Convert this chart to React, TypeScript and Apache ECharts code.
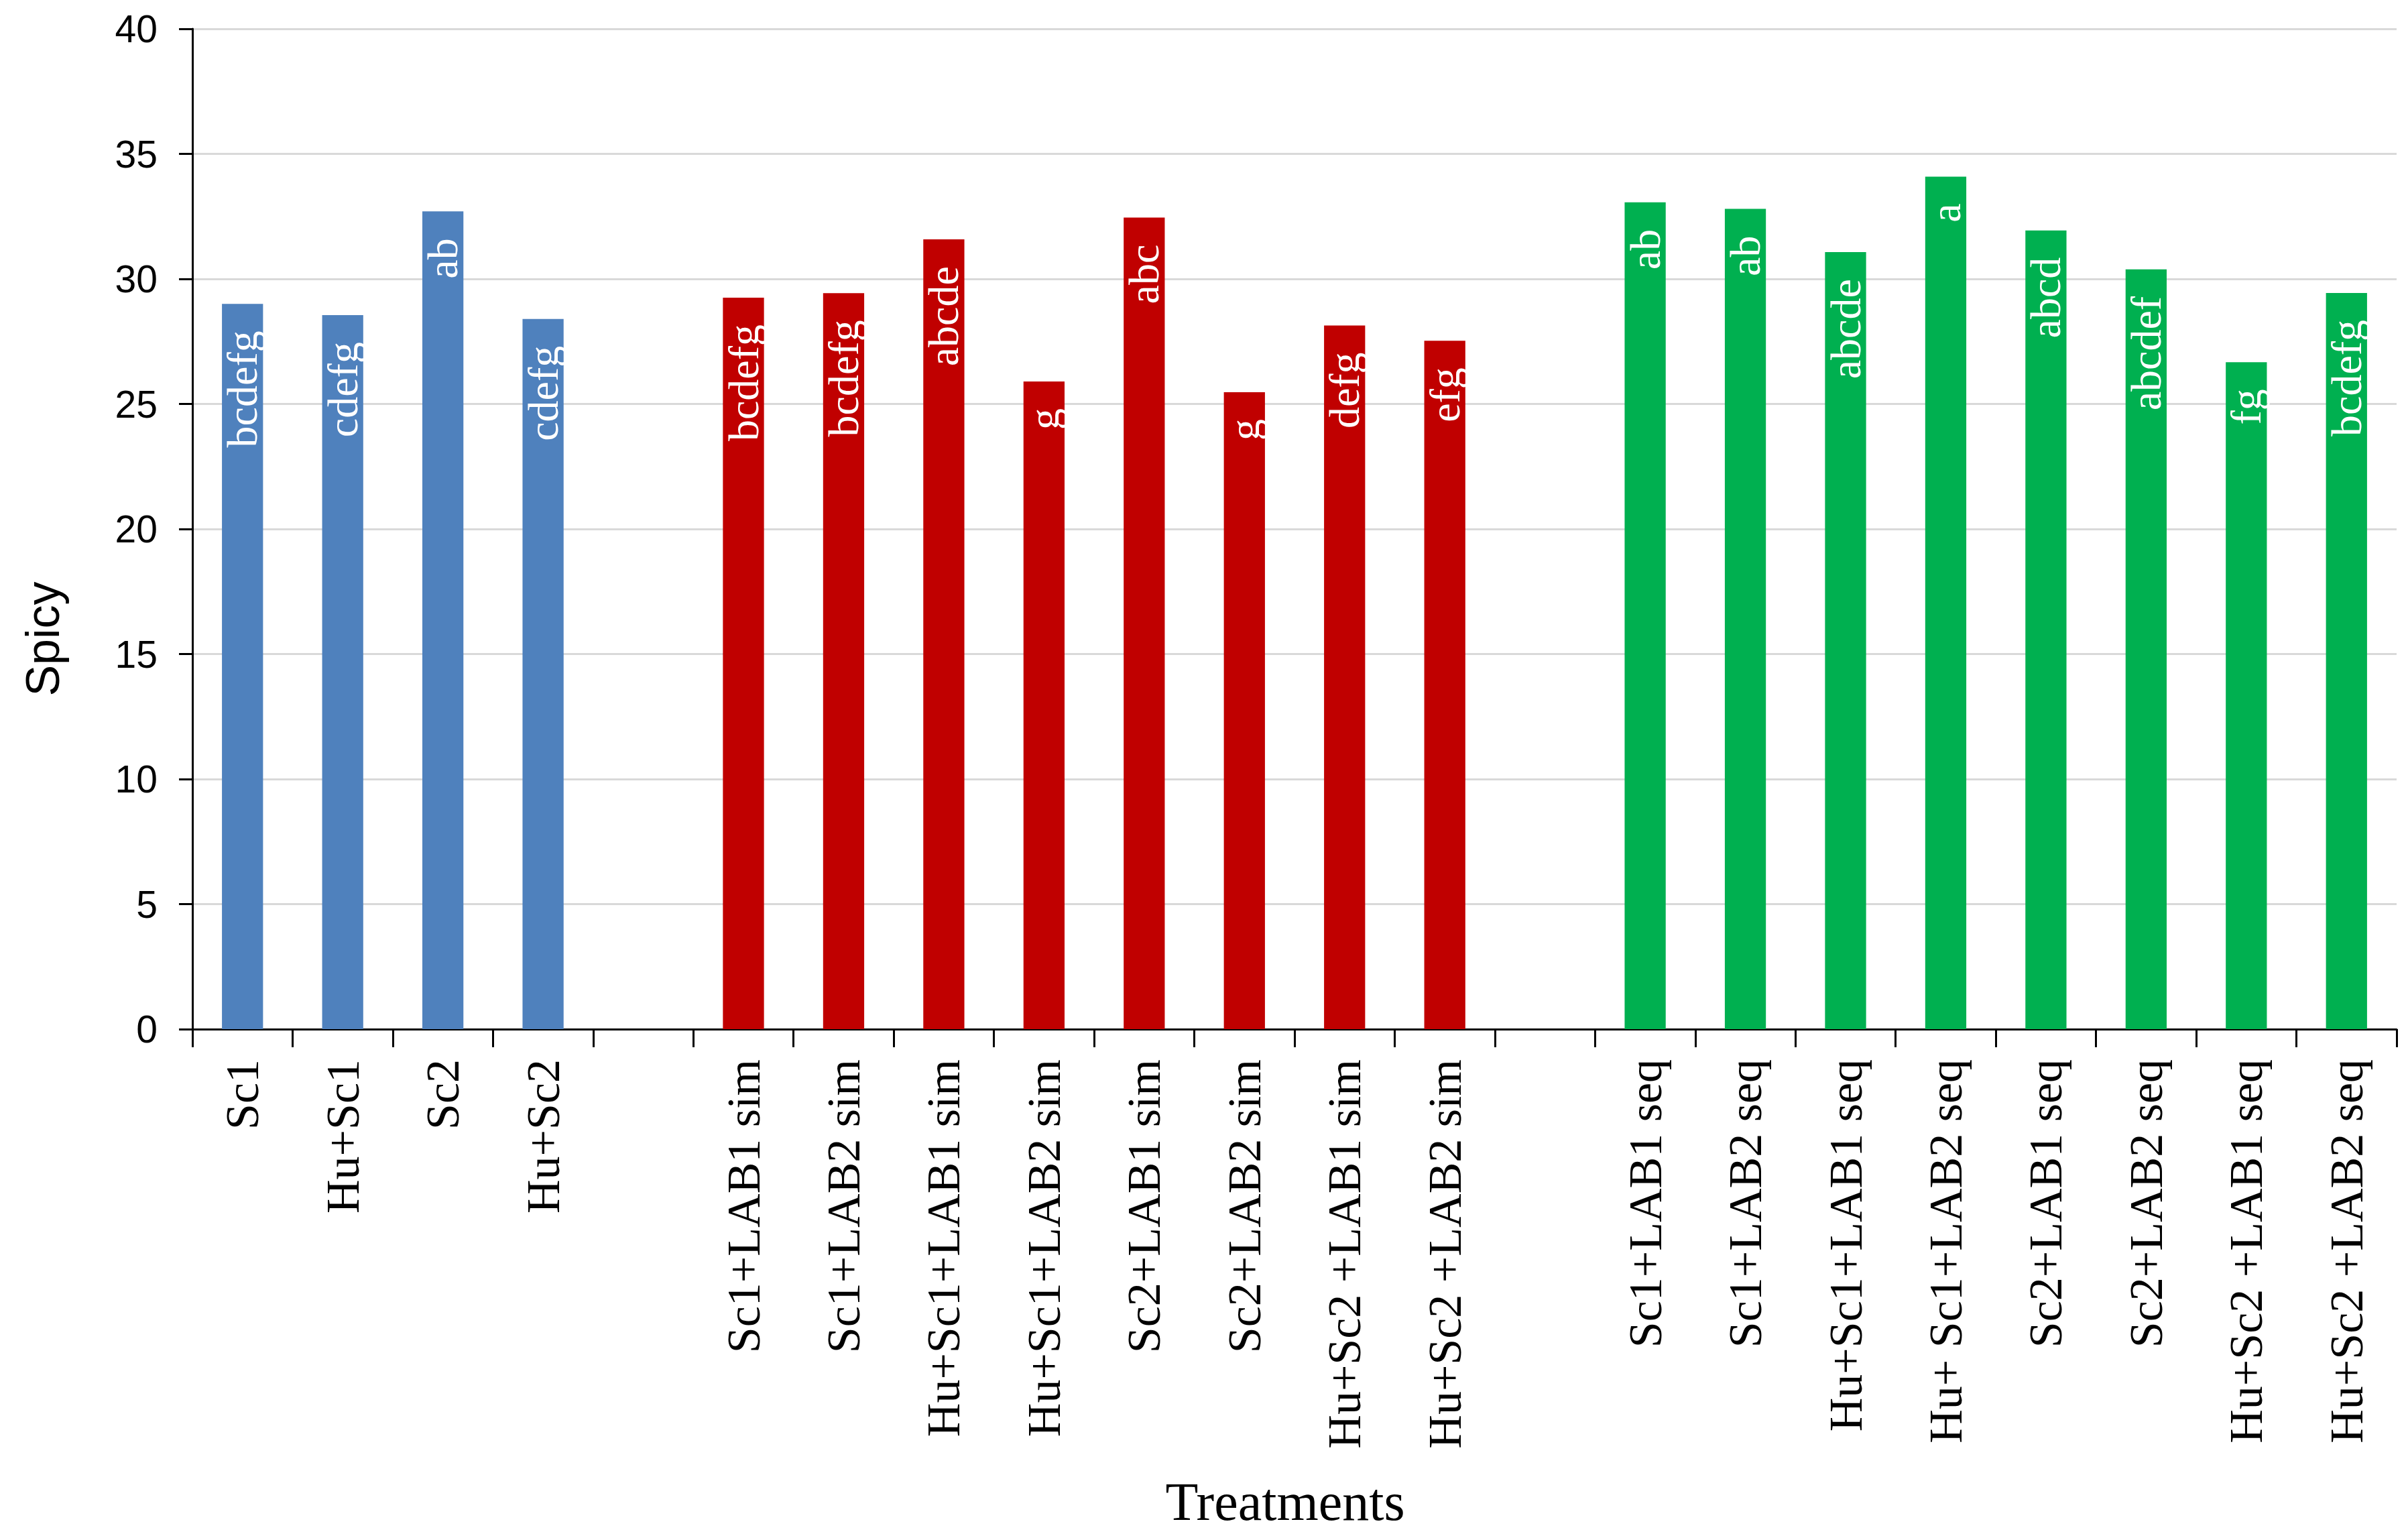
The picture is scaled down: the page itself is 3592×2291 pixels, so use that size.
import React, { useEffect, useRef } from "react";
import * as echarts from "echarts";

const controlLabels = ["Sc1", "Hu+Sc1", "Sc2", "Hu+Sc2"];
const controlValues = [29.0, 28.55, 32.7, 28.4];
const controlLetters = ["bcdefg", "cdefg", "ab", "cdefg"];

const simLabels = [
  "Sc1+LAB1 sim",
  "Sc1+LAB2 sim",
  "Hu+Sc1+LAB1 sim",
  "Hu+Sc1+LAB2 sim",
  "Sc2+LAB1 sim",
  "Sc2+LAB2 sim",
  "Hu+Sc2 +LAB1 sim",
  "Hu+Sc2 +LAB2 sim",
];
const simValues = [29.25, 29.43, 31.58, 25.9, 32.45, 25.47, 28.14, 27.53];
const simLetters = ["bcdefg", "bcdefg", "abcde", "g", "abc", "g", "defg", "efg"];

const seqLabels = [
  "Sc1+LAB1 seq",
  "Sc1+LAB2 seq",
  "Hu+Sc1+LAB1 seq",
  "Hu+ Sc1+LAB2 seq",
  "Sc2+LAB1 seq",
  "Sc2+LAB2 seq",
  "Hu+Sc2 +LAB1 seq",
  "Hu+Sc2 +LAB2 seq",
];
const seqValues = [33.06, 32.8, 31.07, 34.09, 31.94, 30.38, 26.67, 29.44];
const seqLetters = ["ab", "ab", "abcde", "a", "abcd", "abcdef", "fg", "bcdefg"];

const yTicks = [0, 40, 5]; // min, max, interval

const groupColors = ["#4F81BD", "#C00000", "#00B050"];

export default function App() {
  const ref = useRef<HTMLDivElement>(null);

  useEffect(() => {
    if (!ref.current) return;
    const chart = echarts.init(ref.current, null, { renderer: "svg" });

    const categories: string[] = [];
    const data: any[] = [];
    const letters: string[] = [];
    const groups = [
      { labels: controlLabels, values: controlValues, letters: controlLetters, color: groupColors[0] },
      { labels: simLabels, values: simValues, letters: simLetters, color: groupColors[1] },
      { labels: seqLabels, values: seqValues, letters: seqLetters, color: groupColors[2] },
    ];
    groups.forEach((g, gi) => {
      if (gi > 0) {
        categories.push("");
        data.push("-");
        letters.push("");
      }
      g.labels.forEach((l, i) => {
        categories.push(l);
        data.push({ value: g.values[i], itemStyle: { color: g.color } });
        letters.push(g.letters[i]);
      });
    });

    chart.setOption({
      animation: false,
      backgroundColor: "#ffffff",
      grid: { left: 287, right: 17, top: 43, bottom: 756, containLabel: false },
      xAxis: {
        type: "category",
        data: categories,
        boundaryGap: true,
        axisLine: { show: true, lineStyle: { color: "#000000", width: 3 } },
        axisTick: {
          show: true,
          interval: 0,
          alignWithLabel: false,
          length: 27,
          lineStyle: { color: "#000000", width: 3 },
        },
        axisLabel: {
          interval: 0,
          rotate: 90,
          margin: 45,
          color: "#000000",
          fontFamily: "Liberation Serif",
          fontSize: 70,
        },
        splitLine: { show: false },
      },
      yAxis: {
        type: "value",
        min: yTicks[0],
        max: yTicks[1],
        interval: yTicks[2],
        axisLine: { show: true, lineStyle: { color: "#000000", width: 3 } },
        axisTick: { show: true, inside: false, length: 20, lineStyle: { color: "#000000", width: 3 } },
        axisLabel: {
          margin: 52,
          color: "#000000",
          fontFamily: "Liberation Sans",
          fontSize: 57,
        },
        splitLine: { show: true, lineStyle: { color: "#d9d9d9", width: 3 } },
      },
      series: [
        {
          type: "bar",
          data: data,
          barWidth: "41%",
          label: {
            show: true,
            position: "insideTop",
            distance: 40,
            rotate: 90,
            align: "right",
            verticalAlign: "middle",
            color: "#ffffff",
            fontFamily: "Liberation Serif",
            fontSize: 64,
            formatter: (p: any) => letters[p.dataIndex] || "",
          },
        },
      ],
      graphic: [
        {
          type: "text",
          x: 1917,
          y: 2240,
          style: {
            text: "Treatments",
            fill: "#000000",
            font: '80px "Liberation Serif"',
            textAlign: "center",
            textVerticalAlign: "middle",
          },
        },
        {
          type: "text",
          x: 64,
          y: 953,
          rotation: Math.PI / 2,
          style: {
            text: "Spicy",
            fill: "#000000",
            font: '70px "Liberation Sans"',
            textAlign: "center",
            textVerticalAlign: "middle",
          },
        },
      ],
    });

    return () => chart.dispose();
  }, []);

  return (
    <div
      ref={ref}
      style={{ position: "fixed", left: 0, top: 0, width: 3592, height: 2291, background: "#fff" }}
    />
  );
}
